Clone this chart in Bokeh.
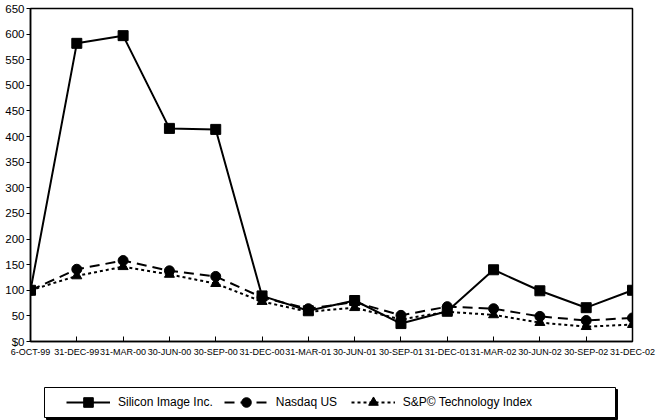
from bokeh.plotting import figure
from bokeh.models import Range1d, FixedTicker, Legend, LegendItem, BoxAnnotation
from bokeh.layouts import column
from bokeh.embed import file_html
from bokeh.resources import INLINE

dates = ["6-OCT-99", "31-DEC-99", "31-MAR-00", "30-JUN-00", "30-SEP-00", "31-DEC-00",
         "31-MAR-01", "30-JUN-01", "30-SEP-01", "31-DEC-01", "31-MAR-02", "30-JUN-02",
         "30-SEP-02", "31-DEC-02"]
silicon = [100, 582, 597, 416, 414, 89, 60, 80, 35, 59, 140, 99, 66, 100]
nasdaq = [100, 141, 158, 138, 127, 86, 64, 77, 51, 68, 64, 49, 41, 46]
sp_tech = [100, 128, 146, 131, 113, 78, 58, 66, 43, 58, 52, 37, 29, 33]
y_ticks = list(range(0, 651, 50))
series_names = ["Silicon Image Inc.", "Nasdaq US", "S&P\u00a9 Technology Index"]

xs = list(range(len(dates)))
FONT = "Liberation Sans"

styles = [dict(marker="square", dash="solid"),
          dict(marker="circle", dash="10 6"),
          dict(marker="triangle", dash="3 3")]

p = figure(width=657, height=372, output_backend="svg", toolbar_location=None,
           x_range=Range1d(0, len(dates) - 1), y_range=Range1d(0, 650),
           min_border_left=30, min_border_right=25, min_border_top=8, min_border_bottom=31)
p.xgrid.visible = False
p.ygrid.visible = False
p.outline_line_color = "black"
p.outline_line_width = 1.5
p.background_fill_color = "white"
p.border_fill_color = "white"

p.xaxis.ticker = FixedTicker(ticks=xs)
p.xaxis.major_label_overrides = {i: d for i, d in enumerate(dates)}
p.xaxis.major_label_text_font = FONT
p.xaxis.major_label_text_font_size = "9px"
p.xaxis.major_label_text_color = "black"
p.xaxis.major_tick_in = 5
p.xaxis.major_tick_out = 0
p.xaxis.minor_tick_line_color = None
p.xaxis.major_label_standoff = 5
p.xaxis.axis_line_width = 1.5
p.xaxis.axis_line_color = "black"
p.xaxis.major_tick_line_color = "black"

p.yaxis.ticker = FixedTicker(ticks=y_ticks)
p.yaxis.major_label_overrides = {0: "$0"}
p.yaxis.major_label_text_font = FONT
p.yaxis.major_label_text_font_size = "11.5px"
p.yaxis.major_label_text_color = "black"
p.yaxis.major_tick_in = 0
p.yaxis.major_tick_out = 4
p.yaxis.minor_tick_line_color = None
p.yaxis.major_label_standoff = 2
p.yaxis.axis_line_width = 1.5
p.yaxis.axis_line_color = "black"
p.yaxis.major_tick_line_color = "black"

all_series = [silicon, nasdaq, sp_tech]
for vals, st in zip(all_series, styles):
    p.line(xs, vals, line_color="black", line_width=2, line_dash=st["dash"])
    p.scatter(xs, vals, marker=st["marker"], size=10, fill_color="black", line_color="black")

# legend strip below the chart (its frame is aligned with the chart frame: x 30..632)
q = figure(width=657, height=48, output_backend="svg", toolbar_location=None,
           x_range=Range1d(0, len(dates) - 1), y_range=Range1d(0, 650),
           x_axis_location=None, y_axis_location=None,
           min_border_left=30, min_border_right=25, min_border_top=0, min_border_bottom=0)
q.xgrid.visible = False
q.ygrid.visible = False
q.outline_line_color = None
q.background_fill_color = "white"
q.border_fill_color = "white"

shadow = BoxAnnotation(left=16, right=587, top=31, bottom=1,
                       left_units="screen", right_units="screen",
                       top_units="screen", bottom_units="screen",
                       fill_color="black", fill_alpha=1, line_color="black", line_alpha=1)
box = BoxAnnotation(left=14, right=585, top=33, bottom=3,
                    left_units="screen", right_units="screen",
                    top_units="screen", bottom_units="screen",
                    fill_color="white", fill_alpha=1, line_color="black", line_width=1, line_alpha=1)
q.add_layout(shadow)
q.add_layout(box)

items = []
for name, vals, st in zip(series_names, all_series, styles):
    lr = q.line(xs, vals, line_color="black", line_width=2, line_dash=st["dash"], visible=False)
    mr = q.scatter(xs, vals, marker=st["marker"], size=10, fill_color="black",
                   line_color="black", visible=False)
    items.append(LegendItem(label=name, renderers=[lr, mr]))

legend = Legend(items=items, orientation="horizontal", location=(36, 6),
                border_line_alpha=0, background_fill_alpha=0, padding=0, margin=0,
                glyph_width=44, glyph_height=24, label_height=24, label_width=64,
                label_standoff=8, spacing=11, click_policy="none",
                inactive_fill_alpha=0,
                label_text_font=FONT, label_text_font_size="12px", label_text_color="black")
q.add_layout(legend, "center")

layout = column(p, q, spacing=0)
open("out.html", "w").write(file_html(layout, INLINE))
